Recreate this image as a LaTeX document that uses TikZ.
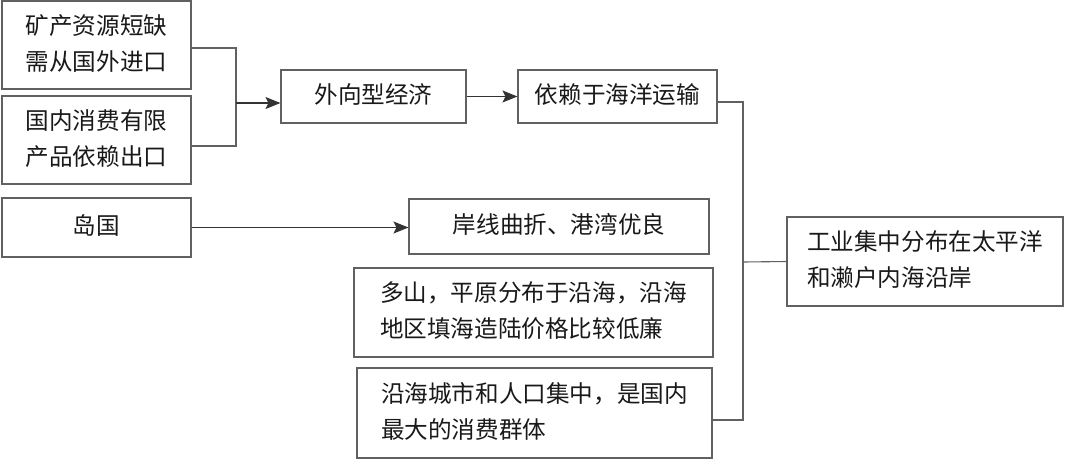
\documentclass[tikz,border=0pt]{standalone}
\usepackage{fontspec}
\setmainfont{Noto Sans CJK SC}
\usetikzlibrary{arrows.meta}
\newcommand{\txc}[1]{\raisebox{-4pt}{\begin{tabular}{@{}c@{}}#1\end{tabular}}}
\newcommand{\txl}[1]{\raisebox{-4pt}{\begin{tabular}{@{}l@{}}#1\end{tabular}}}
\tikzset{
  box/.style={draw=black!62, line width=1.1pt, rectangle, inner sep=0pt, align=center,
    font=\fontsize{23.6}{36}\selectfont, text=black!90},
  conn/.style={draw=black!62, line width=1.1pt},
  arr/.style={conn, -{Stealth[length=15pt,width=12pt,inset=3pt]}, black!80},
}
\begin{document}
\begin{tikzpicture}[x=1pt,y=-1pt]
\useasboundingbox (0,0) rectangle (1065,459);
\node[box, minimum width=189pt, minimum height=88pt] (A) at (96.5,45) {\txc{矿产资源短缺\\需从国外进口}};
\node[box, minimum width=189pt, minimum height=88pt] (B) at (96.5,140) {\txc{国内消费有限\\产品依赖出口}};
\node[box, minimum width=189pt, minimum height=59pt] (C) at (96.5,227.5) {\txc{岛国}};
\node[box, minimum width=185pt, minimum height=53pt] (D) at (373.5,96.5) {\txc{外向型经济}};
\node[box, minimum width=199pt, minimum height=53pt] (E) at (617.5,96.5) {\txc{依赖于海洋运输}};
\node[box, minimum width=300pt, minimum height=55pt] (F) at (559,226.5) {\txc{岸线曲折、港湾优良}};
\node[box, minimum width=359pt, minimum height=89pt] (G) at (533.5,312.5) {\txl{多山，平原分布于沿海，沿海\\地区填海造陆价格比较低廉}};
\node[box, minimum width=355pt, minimum height=90pt] (H) at (534.5,413) {\txl{沿海城市和人口集中，是国内\\最大的消费群体}};
\node[box, minimum width=276pt, minimum height=89pt] (I) at (925,261.5) {\txl{工业集中分布在太平洋\\和濑户内海沿岸}};
\coordinate (j1) at (236,103);
\coordinate (j2) at (743,262);
\draw[conn] ([yshift=-3pt]A.east) -| (j1);
\draw[conn] ([yshift=-6pt]B.east) -| (j1);
\draw[arr] (j1) -- (D.west |- j1);
\draw[arr] (D.east) -- (E.west);
\draw[arr] (C.east) -- (F.west |- C.east);
\draw[conn] ([yshift=-5.5pt]E.east) -| (j2);
\draw[conn] ([yshift=-7pt]H.east) -| (j2);
\draw[conn] (j2) -- (I.west);
\end{tikzpicture}
\end{document}
